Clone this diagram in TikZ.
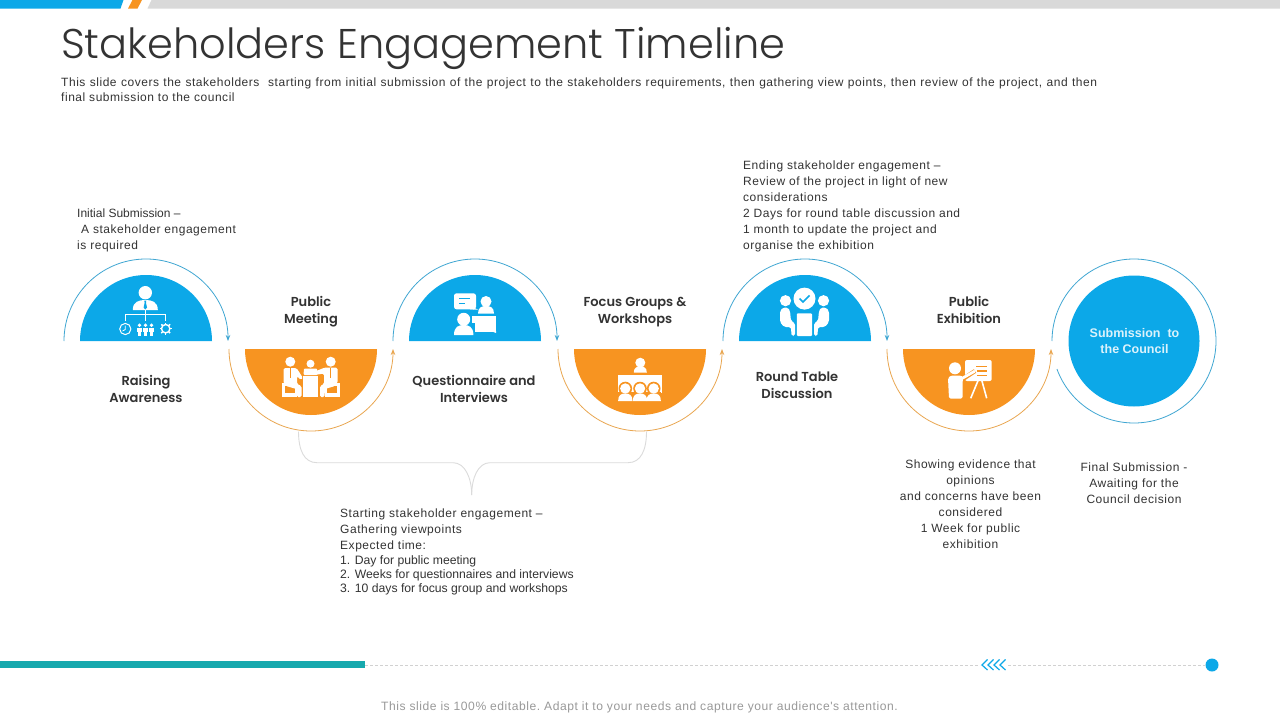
\documentclass[tikz,border=0pt]{standalone}
\usepackage{fontspec}
\setmainfont{Liberation Sans}
\newfontfamily\titlefont{Poppins Light}
\newfontfamily\labelfont{Poppins SemiBold}
\newfontfamily\bodyfont[LetterSpace=4.5]{Liberation Sans}
\usetikzlibrary{arrows.meta}
\definecolor{cblue}{HTML}{0CA8E8}
\definecolor{corange}{HTML}{F79421}
\definecolor{arcblue}{HTML}{3FA6D2}
\definecolor{arcorange}{HTML}{E9A650}
\definecolor{cteal}{HTML}{16A9AE}
\definecolor{ctext}{HTML}{333333}
\tikzset{
 blobblue/.style={fill=cblue},
 bloborange/.style={fill=corange},
 arcb/.style={draw=arcblue,line width=0.8pt,-{Stealth[length=6pt,width=4.5pt]}},
 arco/.style={draw=arcorange,line width=0.8pt,-{Stealth[length=6pt,width=4.5pt]}},
 bodytext/.style={font=\bodyfont\fontsize{12}{16}\selectfont,text=ctext,inner sep=0pt,align=left},
 midtext/.style={bodytext,align=center},
 steplabel/.style={font=\labelfont\fontsize{13}{17}\selectfont,text=ctext,inner sep=0pt,align=center},
 bracket/.style={draw=black!14,line width=0.9pt},
}
% head + shoulders: cx, head cy, head r, half width, top of shoulders, bottom, colour
\newcommand\pbust[7]{%
 \fill[#7] (#1,#2) circle[radius=#3pt];
 \fill[#7] ({#1-#4},#6) .. controls ({#1-#4},{#5+0.15*(#6-#5)}) and ({#1-0.5*#4},#5) .. (#1,#5)
   .. controls ({#1+0.5*#4},#5) and ({#1+#4},{#5+0.15*(#6-#5)}) .. ({#1+#4},#6) -- cycle;}
\begin{document}
\begin{tikzpicture}[x=1pt,y=-1pt]
\useasboundingbox (0,0) rectangle (1280,720);
\fill[white] (0,0) rectangle (1280,720);
% top bars
\fill[cblue] (0,0) -- (123.5,0) -- (120.5,8.5) -- (0,8.5) -- cycle;
\fill[corange] (132.5,0) -- (142,0) -- (137.5,8.5) -- (128,8.5) -- cycle;
\fill[black!15] (151.5,0) -- (1280,0) -- (1280,8.5) -- (147.5,8.5) -- cycle;
% title
\node[anchor=west,inner sep=0pt,text=ctext,font=\titlefont\fontsize{41.5}{48}\selectfont] (title) at (61,48.5) {Stakeholders Engagement Timeline};
\node[anchor=north west,inner sep=0pt,text=ctext,font=\bodyfont\fontsize{12}{15.5}\selectfont,align=left] (intro) at (61,77.5)
 {\makebox[1036pt][s]{This slide covers the stakeholders\ \ starting from initial submission of the project to the stakeholders requirements,\ then gathering view\ points, then review\ of the project, and then}\\ final submission to the council};

% half discs
\coordinate (b1) at (146,341); \coordinate (o1) at (311,349);
\coordinate (b2) at (475,341); \coordinate (o2) at (640,349);
\coordinate (b3) at (805,341); \coordinate (o3) at (969,349);
\coordinate (fin) at (1134,341);
\foreach \c in {b1,b2,b3} {\fill[blobblue] (\c) ++(-66,0) arc[start angle=180,end angle=0,radius=66pt] -- cycle;}
\foreach \c in {o1,o2,o3} {\fill[bloborange] (\c) ++(-66,0) arc[start angle=180,end angle=360,radius=66pt] -- cycle;}
\fill[blobblue] (fin) circle[radius=65.5pt];
% arcs
\foreach \c in {b1,b2,b3} {\draw[arcb] (\c) ++(-82,0) arc[start angle=180,end angle=0,radius=82pt];}
\foreach \c in {o1,o2,o3} {\draw[arco] (\c) ++(-82,0) arc[start angle=180,end angle=360,radius=82pt];}
\draw[draw=arcblue,line width=0.8pt] (fin) ++(-82,0) arc[start angle=180,end angle=-160,radius=82pt];
% bracket
\coordinate (brL) at (298.5,431.5); \coordinate (brR) at (646.5,431.5); \coordinate (brTip) at (471.7,495);
\draw[bracket] (brL) .. controls (298.5,450) and (304,462.7) .. (317,462.7) -- (453,462.7) .. controls (465,462.7) and (471.7,478) .. (brTip);
\draw[bracket] (brR) .. controls (646.5,450) and (641,462.7) .. (628,462.7) -- (490,462.7) .. controls (478,462.7) and (471.7,478) .. (brTip);

% ICON 1
\pbust{145.3}{292.7}{6.7}{12.5}{300}{310}{white}
\fill[cblue] (144.3,300.5) -- (146.3,300.5) -- (146,303) -- (147,307.5) -- (145.3,309.5) -- (143.6,307.5) -- (144.6,303) -- cycle;
\draw[white,line width=0.6pt] (145.3,310) -- (145.3,321) (125.3,321) -- (125.3,314) -- (165.3,314) -- (165.3,321);
\draw[white,line width=1pt] (125.3,329) circle[radius=5.6pt];
\draw[white,line width=0.8pt] (125.3,325.5) -- (125.3,329.5) -- (122.5,331);
\foreach \x in {139.5,145.5,151.5}{
 \fill[white] (\x,325.3) circle[radius=1.9pt];
 \fill[white] ({\x-2.7},328) rectangle ({\x+2.7},331.5);
 \fill[white] ({\x-1.8},331) rectangle ({\x+1.8},335.5);}
\draw[white,line width=1.4pt] (165.7,328.7) circle[radius=4.2pt];
\foreach \a in {0,45,...,315} {\draw[white,line width=1.5pt] (165.7,328.7) ++(\a:4.4pt) -- ++(\a:1.8pt);}

% ICON 2
\fill[white] (290.3,361.7) circle[radius=5pt];
\fill[white] (330.7,361.7) circle[radius=5pt];
\fill[white] (310.5,363.7) circle[radius=4pt];
% chairs
\fill[white] (281.5,383) rectangle (296.5,397);
\fill[corange] (284.5,386) rectangle (294.5,392.5);
\fill[white] (325,383) rectangle (340,397);
\fill[corange] (327,386) rectangle (337,392.5);
% left person
\fill[white,rounded corners=1.5pt] (283.5,368) -- (296.5,368) -- (303,378) -- (301,380) -- (297,376) -- (297,384) -- (301.5,386) -- (301.5,397) -- (297,397) -- (296.5,389) -- (286,386) -- (283.5,383) -- cycle;
\draw[corange,line width=0.6pt] (290.3,368) -- (290.3,378);
% centre person and table
\fill[white,rounded corners=1pt] (304,368.5) -- (317,368.5) -- (317.5,375) -- (303.5,375) -- cycle;
\fill[white] (303.3,376) rectangle (318.3,397);
% right person
\fill[white,rounded corners=1.5pt] (337.5,367.5) -- (325,367.5) -- (313.5,372) -- (314.5,375) -- (324,373.5) -- (324,384) -- (320,386) -- (320,397) -- (324.5,397) -- (325,389) -- (335,386) -- (337.5,383) -- cycle;
\draw[corange,line width=0.6pt] (330.7,368) -- (330.7,378);

% ICON 3
\fill[white,rounded corners=2.5pt] (454,293.3) rectangle (476,309.3);
\fill[white] (471,306) -- (478,309.8) -- (470,309.3) -- cycle;
\draw[cblue,line width=1.1pt] (459,298.7) -- (469.5,298.7) (459,303.3) -- (465,303.3);
\pbust{486}{301.5}{5.5}{8}{306}{313.5}{white}
\fill[white] (471.5,315.5) rectangle (496,331.5);
\fill[white] (491,331) -- (496,331) -- (496,333) -- cycle;
\fill[cblue] (463.7,319.3) circle[radius=8pt];
\fill[cblue] (452,336) rectangle (475,323);
\pbust{463.7}{319.3}{6.5}{9.7}{325}{335}{white}

% ICON 4
\pbust{640.3}{362.7}{5}{6.5}{366.5}{372.5}{white}
\fill[white] (618,375.3) rectangle (662,393);
\foreach \x in {625.3,640,653.7}{
 \fill[corange] (\x,388.5) circle[radius=6.8pt];
 \fill[corange] ({\x-7.5},392) rectangle ({\x+7.5},402);}
\foreach \x in {625.3,640,653.7}{\pbust{\x}{388.5}{5.2}{7.2}{393.5}{401}{white}}

% ICON 5
\fill[white] (804.5,298.6) circle[radius=11pt];
\draw[cblue,line width=1.7pt] (799.5,298.5) -- (803,302) -- (809.5,295.5);
\fill[white,rounded corners=1pt] (796.9,313.3) rectangle (812,336);
\foreach \s in {-1,1}{
 \fill[white] ({804.5+\s*19},300.7) circle[radius=5.6pt];
 \fill[white,rounded corners=1.8pt] ({804.5+\s*24.5},311) -- ({804.5+\s*21.5},307.5) -- ({804.5+\s*16.5},307.5) -- ({804.5+\s*14.5},311) -- ({804.5+\s*13.5},321) -- ({804.5+\s*9.5},323) -- ({804.5+\s*9.5},336) -- ({804.5+\s*13},336) -- ({804.5+\s*13.5},327) -- ({804.5+\s*20.5},327) -- ({804.5+\s*24.5},322) -- cycle;
}

% ICON 6
\fill[white,rounded corners=2pt] (965,360) rectangle (991.7,381);
\draw[corange,line width=1.1pt] (976,366.7) -- (987.3,366.7) (977,371) -- (987.3,371) (977,375.7) -- (987.3,375.7);
\draw[white,line width=1.6pt] (978.3,380) -- (970.7,398.3) (981.7,380) -- (986.7,398.3);
\fill[white] (955,368.3) circle[radius=6pt];
\draw[corange,line width=4.2pt] (963,379) -- (975,371);
\fill[white,rounded corners=1.5pt] (948,378) -- (951,375.5) -- (961,375.5) -- (963,377) -- (962.5,385) -- (962.5,398.5) -- (949,398.5) -- cycle;
\draw[white,line width=2.8pt,line cap=round] (961,379) -- (974.5,371.3);

% step labels
\node[steplabel] (l1) at (146,389) {Raising\\Awareness};
\node[steplabel] (l2) at (311,311.5) {Public\\Meeting};
\node[steplabel] (l3) at (474,389) {Questionnaire and\\Interviews};
\node[steplabel] (l4) at (635,312.5) {Focus Groups \&\\Workshops};
\node[steplabel] (l5) at (797,385) {Round Table\\Discussion};
\node[steplabel] (l6) at (969,309.5) {Public\\Exhibition};
\node[inner sep=0pt,align=center,text=white!85!cblue,font=\rmfamily\bfseries\fontsize{12.5}{16}\selectfont] (l7) at (1134.5,341.5) {Submission\ \ to\\the Council};

% descriptions
\node[bodytext,anchor=north west] (d1) at (77,208.5) {{\rmfamily Initial Submission –}\\\hspace{4pt}A stakeholder engagement\\is required};
\node[bodytext,anchor=north west] (d2) at (743,160.5) {Ending stakeholder engagement –\\Review\ of the project in light of new\\considerations\\2 Days for round table discussion and\\1 month to update the project and\\organise the exhibition};
\node[bodytext,anchor=north west] (d3) at (340,508.5) {Starting stakeholder engagement –\\Gathering viewpoints\\Expected time:};
\node[bodytext,anchor=north west,font=\rmfamily\fontsize{12.2}{14}\selectfont] (d3b) at (340,555.5) {1. Day for public meeting\\2. Weeks for questionnaires and interviews\\3. 10 days for focus group and workshops};
\node[midtext,anchor=north] (d4) at (970.5,459.5) {Showing evidence\ that\\opinions\\and concerns have\ been\\considered\\1 Week for public\\exhibition};
\node[midtext,anchor=north] (d5) at (1134,462.5) {Final Submission -\\Awaiting for the\\Council decision};

% bottom bar
\fill[cteal] (0,661) rectangle (365,667.5);
\coordinate (lineL) at (365,665);
\node[circle,fill=cblue,inner sep=0pt,minimum size=13pt] (dot) at (1212,665) {};
\draw[black!18,line width=0.6pt,dash pattern=on 3pt off 2pt] (lineL) -- (980,665);
\draw[black!18,line width=0.6pt,dash pattern=on 3pt off 2pt] (1008,665) -- (dot);
\foreach \x in {982,988,994,1000} {\draw[cblue,line width=1.2pt] ({\x+5.5},659.5) -- (\x,665) -- ({\x+5.5},670);}
% footer
\node[inner sep=0pt,text=black!40,font=\bodyfont\fontsize{12.1}{15}\selectfont] (foot) at (639.5,707.5) {This slide is 100\%\ editable.\ Adapt it to your needs and capture your audience's attention.};
\end{tikzpicture}
\end{document}
